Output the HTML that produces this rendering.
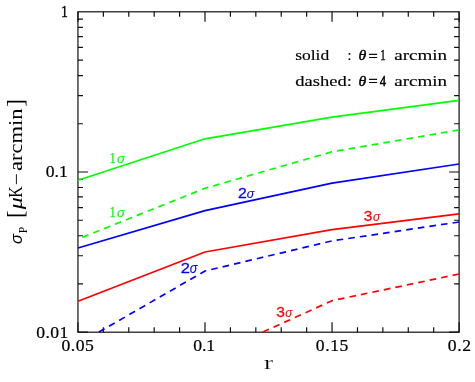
<!DOCTYPE html>
<html><head><meta charset="utf-8"><title>plot</title>
<style>html,body{margin:0;padding:0;background:#fff}svg{display:block;will-change:transform}text{font-family:"Liberation Serif",serif}</style>
</head><body>
<svg width="475" height="382" viewBox="0 0 475 382">
<rect width="475" height="382" fill="#fff"/>
<defs><filter id="nf" x="0" y="0" width="475" height="382" filterUnits="userSpaceOnUse"><feOffset dx="0" dy="0"/></filter><clipPath id="c"><rect x="77.95" y="11.8" width="381.15000000000003" height="320.4"/></clipPath></defs>
<g fill="none" stroke="#111" stroke-width="1.2">
<rect x="77.95" y="11.8" width="381.15" height="320.40"/>
<path d="M77.95 332.2 v-10 M77.95 11.8 v10 M103.36 332.2 v-5 M103.36 11.8 v5 M128.77 332.2 v-5 M128.77 11.8 v5 M154.18 332.2 v-5 M154.18 11.8 v5 M179.59 332.2 v-5 M179.59 11.8 v5 M205.00 332.2 v-10 M205.00 11.8 v10 M230.41 332.2 v-5 M230.41 11.8 v5 M255.82 332.2 v-5 M255.82 11.8 v5 M281.23 332.2 v-5 M281.23 11.8 v5 M306.64 332.2 v-5 M306.64 11.8 v5 M332.05 332.2 v-10 M332.05 11.8 v10 M357.46 332.2 v-5 M357.46 11.8 v5 M382.87 332.2 v-5 M382.87 11.8 v5 M408.28 332.2 v-5 M408.28 11.8 v5 M433.69 332.2 v-5 M433.69 11.8 v5 M459.10 332.2 v-10 M459.10 11.8 v10 M77.95 332.20 h10 M459.1 332.20 h-10 M77.95 283.97 h5 M459.1 283.97 h-5 M77.95 255.77 h5 M459.1 255.77 h-5 M77.95 235.75 h5 M459.1 235.75 h-5 M77.95 220.23 h5 M459.1 220.23 h-5 M77.95 207.54 h5 M459.1 207.54 h-5 M77.95 196.82 h5 M459.1 196.82 h-5 M77.95 187.52 h5 M459.1 187.52 h-5 M77.95 179.33 h5 M459.1 179.33 h-5 M77.95 172.00 h10 M459.1 172.00 h-10 M77.95 123.77 h5 M459.1 123.77 h-5 M77.95 95.57 h5 M459.1 95.57 h-5 M77.95 75.55 h5 M459.1 75.55 h-5 M77.95 60.03 h5 M459.1 60.03 h-5 M77.95 47.34 h5 M459.1 47.34 h-5 M77.95 36.62 h5 M459.1 36.62 h-5 M77.95 27.32 h5 M459.1 27.32 h-5 M77.95 19.13 h5 M459.1 19.13 h-5"/>
</g>
<g clip-path="url(#c)" fill="none" stroke-width="1.7" stroke-linejoin="round">
<path d="M78 180.3 L205.0 138.8 L332.05 117.1 L459.1 100.3" stroke="#00ff00"/>
<path d="M459.1 129.9 L332.05 151.8 L205.0 188.3 L78 239.1" stroke="#00ff00" stroke-dasharray="6.6 5.115"/>
<path d="M78 248.0 L205.0 210.6 L332.05 183.2 L459.1 164.0" stroke="#0000ff"/>
<path d="M459.1 222.0 L332.05 240.9 L205.0 271.0 L78 344.1" stroke="#0000ff" stroke-dasharray="6.6 5.115"/>
<path d="M78 301.3 L205.0 252.0 L332.05 229.6 L459.1 213.9" stroke="#ff0000"/>
<path d="M459.1 274.0 L332.05 300.7 L205.0 358.3" stroke="#ff0000" stroke-dasharray="6.6 5.115"/>
</g>
<g filter="url(#nf)">
<text transform="translate(60.99 16.90) scale(0.881 1)" font-size="15.76" stroke="#000" stroke-width="0.3">1</text>
<text transform="translate(45.67 177.10) scale(1.120 1)" font-size="15.76" stroke="#000" stroke-width="0.22" letter-spacing="0.057">0.1</text>
<text transform="translate(36.27 337.50) scale(1.120 1)" font-size="15.76" stroke="#000" stroke-width="0.22" letter-spacing="0.328">0.01</text>
<text transform="translate(61.47 350.70) scale(1.120 1)" font-size="15.76" stroke="#000" stroke-width="0.22" letter-spacing="0.439">0.05</text>
<text transform="translate(193.27 350.70) scale(1.120 1)" font-size="15.76" stroke="#000" stroke-width="0.22" letter-spacing="-0.077">0.1</text>
<text transform="translate(315.77 350.70) scale(1.120 1)" font-size="15.76" stroke="#000" stroke-width="0.22" letter-spacing="0.528">0.15</text>
<text transform="translate(447.67 350.70) scale(1.120 1)" font-size="15.76" stroke="#000" stroke-width="0.22" letter-spacing="0.603">0.2</text>
<text transform="translate(263.96 368.70) scale(1.429 1)" font-size="18.96" stroke="#fff" stroke-width="0.12">r</text>
<text transform="translate(295.20 60.00) scale(1.218 1)" font-size="14.35" stroke="#000" stroke-width="0.15">solid</text>
<text transform="translate(346.96 60.00) scale(1.155 1)" font-size="15.32">:</text>
<text transform="translate(358.57 60.00) scale(1.130 1)" font-size="14.00" font-style="italic" stroke="#000" stroke-width="0.4">θ</text>
<text transform="translate(368.55 60.50) scale(1.106 1)" font-size="14.70" stroke="#000" stroke-width="0.5">=</text>
<text transform="translate(380.13 60.00) scale(0.722 1)" font-size="15.00" stroke="#000" stroke-width="0.4">1</text>
<text transform="translate(394.23 60.00) scale(1.245 1)" font-size="15.32" stroke="#000" stroke-width="0.15">arcmin</text>
<text transform="translate(295.24 85.80) scale(1.294 1)" font-size="14.35" stroke="#000" stroke-width="0.15">dashed:</text>
<text transform="translate(358.57 85.80) scale(1.130 1)" font-size="14.00" font-style="italic" stroke="#000" stroke-width="0.4">θ</text>
<text transform="translate(368.55 86.30) scale(1.106 1)" font-size="14.70" stroke="#000" stroke-width="0.5">=</text>
<text transform="translate(379.67 85.80) scale(0.834 1)" font-size="15.23" stroke="#000" stroke-width="0.5">4</text>
<text transform="translate(394.23 85.80) scale(1.245 1)" font-size="15.32" stroke="#000" stroke-width="0.15">arcmin</text>
<text transform="translate(109.77 162.90) scale(0.837 1)" font-size="13.94" fill="#00ff00" stroke="#00ff00" stroke-width="0.3">1</text>
<text transform="translate(117.10 162.90) scale(1.005 1)" font-size="13.21" font-style="italic" style="font-family:'Liberation Sans',sans-serif" fill="#00ff00" stroke="#00ff00" stroke-width="0.1">σ</text>
<text transform="translate(109.77 217.40) scale(0.837 1)" font-size="13.94" fill="#00ff00" stroke="#00ff00" stroke-width="0.3">1</text>
<text transform="translate(117.10 217.40) scale(1.005 1)" font-size="13.21" font-style="italic" style="font-family:'Liberation Sans',sans-serif" fill="#00ff00" stroke="#00ff00" stroke-width="0.1">σ</text>
<text transform="translate(238.11 197.90) scale(1.145 1)" font-size="13.86" style="font-family:'Liberation Sans',sans-serif" fill="#0000ff" stroke="#0000ff" stroke-width="0.25">2</text>
<text transform="translate(246.83 197.90) scale(0.943 1)" font-size="13.21" font-style="italic" style="font-family:'Liberation Sans',sans-serif" fill="#0000ff" stroke="#0000ff" stroke-width="0.1">σ</text>
<text transform="translate(180.67 273.30) scale(1.168 1)" font-size="14.14" style="font-family:'Liberation Sans',sans-serif" fill="#0000ff" stroke="#0000ff" stroke-width="0.25">2</text>
<text transform="translate(189.72 273.30) scale(0.928 1)" font-size="13.77" font-style="italic" style="font-family:'Liberation Sans',sans-serif" fill="#0000ff" stroke="#0000ff" stroke-width="0.1">σ</text>
<text transform="translate(363.83 221.20) scale(1.097 1)" font-size="14.14" style="font-family:'Liberation Sans',sans-serif" fill="#ff0000" stroke="#ff0000" stroke-width="0.25">3</text>
<text transform="translate(373.04 221.20) scale(0.893 1)" font-size="13.58" font-style="italic" style="font-family:'Liberation Sans',sans-serif" fill="#ff0000" stroke="#ff0000" stroke-width="0.1">σ</text>
<text transform="translate(276.23 316.50) scale(1.097 1)" font-size="14.14" style="font-family:'Liberation Sans',sans-serif" fill="#ff0000" stroke="#ff0000" stroke-width="0.25">3</text>
<text transform="translate(285.24 316.50) scale(0.881 1)" font-size="13.58" font-style="italic" style="font-family:'Liberation Sans',sans-serif" fill="#ff0000" stroke="#ff0000" stroke-width="0.1">σ</text>
</g>
<g filter="url(#nf)"><g transform="translate(22 243.6) rotate(-90)">
<text transform="translate(-0.49 0.00) scale(0.965 1)" font-size="16.98" font-style="italic" style="font-family:'Liberation Sans',sans-serif">σ</text>
<text transform="translate(10.27 5.40) scale(0.943 1)" font-size="12.31">P</text>
<text transform="translate(25.49 0.82) scale(1.039 1)" font-size="22.17">[</text>
<text transform="translate(34.44 0.00) scale(1.278 1)" font-size="18.91" font-style="italic">μ</text>
<text transform="translate(45.79 0.00) scale(0.824 1)" font-size="19.08">K</text>
<text transform="translate(72.52 0.00) scale(1.220 1)" font-size="18.51" letter-spacing="0.001">arcmin</text>
<text transform="translate(136.91 0.82) scale(1.039 1)" font-size="22.17">]</text>
<path d="M59.4 -5.6 h10" stroke="#000" stroke-width="0.9" fill="none"/>
</g></g>
</svg>
</body></html>
